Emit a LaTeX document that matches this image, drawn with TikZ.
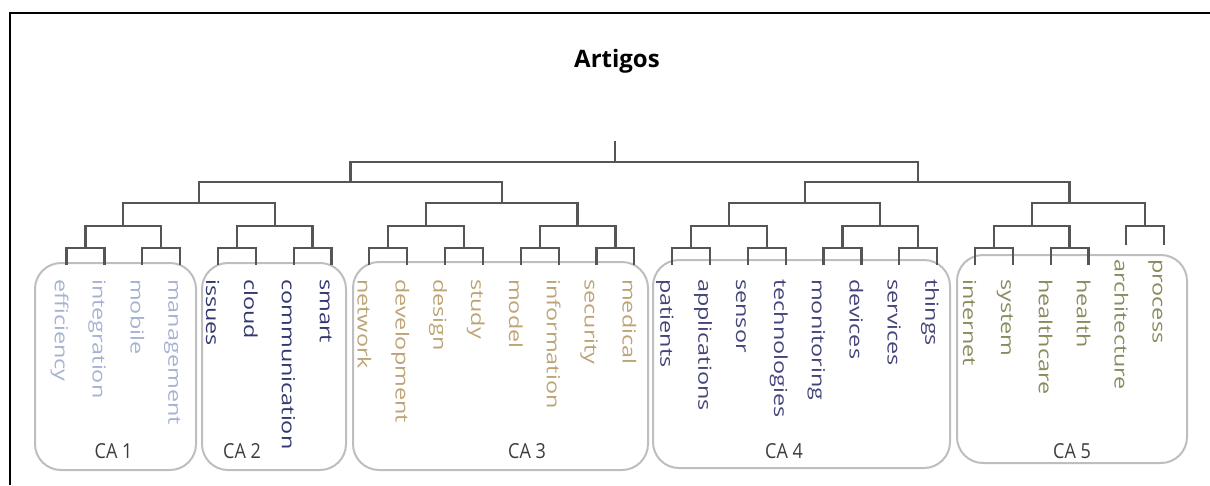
\documentclass[tikz,border=0pt]{standalone}
\usepackage{fontspec}
\setmainfont{Open Sans}
\usepackage{graphicx}

\definecolor{treeline}{RGB}{85,85,85}
\definecolor{boxgray}{RGB}{190,190,190}
\definecolor{calabel}{RGB}{60,60,60}
\definecolor{caone}{RGB}{165,178,210}
\definecolor{catwo}{RGB}{50,55,112}
\definecolor{cathree}{RGB}{188,164,118}
\definecolor{cafour}{RGB}{68,68,122}
\definecolor{cafive}{RGB}{138,138,92}

\tikzset{
    branch/.style={draw=treeline, line width=2.2pt},
    cabox/.style={draw=boxgray, line width=2pt, rounded corners=26pt},
    leaflab/.style={shift={(2,14)}, rotate=-90, anchor=north west, inner sep=0pt,
        text height=13.5pt, text depth=4.5pt, font=\fontsize{18}{18}\selectfont},
    calab/.style={anchor=base, inner sep=0pt, text=calabel, font=\fontsize{18}{18}\selectfont}
}
\newcommand{\stretchlab}[1]{\scalebox{1.3}[1]{#1}}

\begin{document}
\begin{tikzpicture}[x=1pt, y=-1pt]
    \useasboundingbox (0,0) rectangle (1210,485);
    \draw[line width=2pt] (10,485) -- (10,13) -- (1210,13);

    \node[anchor=base, font=\bfseries\fontsize{24}{24}\selectfont] (title) at (617,67) {Artigos};

    % cluster boxes
    \draw[cabox] (35,263) rectangle (196,470);
    \draw[cabox] (202,263) rectangle (346,470);
    \draw[cabox] (353,262) rectangle (648,470);
    \draw[cabox] (653,260) rectangle (950,468);
    \draw[cabox] (957,255) rectangle (1187,463);
    \node[calab] (ca1) at (113.5,458) {\scalebox{1}[1.15]{CA 1}};
    \node[calab] (ca2) at (242,458) {\scalebox{1}[1.15]{CA 2}};
    \node[calab] (ca3) at (527,458) {\scalebox{1}[1.15]{CA 3}};
    \node[calab] (ca4) at (784,458) {\scalebox{1}[1.15]{CA 4}};
    \node[calab] (ca5) at (1072,458) {\scalebox{1}[1.15]{CA 5}};

    % leaves
    \coordinate (efficiency) at (66.5,265);
    \coordinate (integration) at (104.4,265);
    \coordinate (mobile) at (142.2,265);
    \coordinate (management) at (180.1,265);
    \coordinate (issues) at (217.9,265);
    \coordinate (cloud) at (255.8,265);
    \coordinate (communication) at (293.6,265);
    \coordinate (smart) at (331.5,265);
    \coordinate (network) at (369.3,265);
    \coordinate (development) at (407.2,265);
    \coordinate (design) at (445.0,265);
    \coordinate (study) at (482.9,265);
    \coordinate (model) at (520.7,265);
    \coordinate (information) at (558.6,265);
    \coordinate (security) at (596.4,265);
    \coordinate (medical) at (634.3,265);
    \coordinate (patients) at (672.1,265);
    \coordinate (applications) at (710.0,265);
    \coordinate (sensor) at (747.8,265);
    \coordinate (technologies) at (785.7,265);
    \coordinate (monitoring) at (823.5,265);
    \coordinate (devices) at (861.4,265);
    \coordinate (services) at (899.2,265);
    \coordinate (things) at (937.1,265);
    \coordinate (internet) at (974.9,265);
    \coordinate (system) at (1012.8,265);
    \coordinate (healthcare) at (1050.6,265);
    \coordinate (health) at (1088.5,265);
    \coordinate (architecture) at (1126.3,245);
    \coordinate (process) at (1164.2,245);

    \node[leaflab, text=caone] (efficiency-t) at (efficiency) {\stretchlab{efficiency}};
    \node[leaflab, text=caone] (integration-t) at (integration) {\stretchlab{integration}};
    \node[leaflab, text=caone] (mobile-t) at (mobile) {\stretchlab{mobile}};
    \node[leaflab, text=caone] (management-t) at (management) {\stretchlab{management}};
    \node[leaflab, text=catwo] (issues-t) at (issues) {\stretchlab{issues}};
    \node[leaflab, text=catwo] (cloud-t) at (cloud) {\stretchlab{cloud}};
    \node[leaflab, text=catwo] (communication-t) at (communication) {\stretchlab{communication}};
    \node[leaflab, text=catwo] (smart-t) at (smart) {\stretchlab{smart}};
    \node[leaflab, text=cathree] (network-t) at (network) {\stretchlab{network}};
    \node[leaflab, text=cathree] (development-t) at (development) {\stretchlab{development}};
    \node[leaflab, text=cathree] (design-t) at (design) {\stretchlab{design}};
    \node[leaflab, text=cathree] (study-t) at (study) {\stretchlab{study}};
    \node[leaflab, text=cathree] (model-t) at (model) {\stretchlab{model}};
    \node[leaflab, text=cathree] (information-t) at (information) {\stretchlab{information}};
    \node[leaflab, text=cathree] (security-t) at (security) {\stretchlab{security}};
    \node[leaflab, text=cathree] (medical-t) at (medical) {\stretchlab{medical}};
    \node[leaflab, text=cafour] (patients-t) at (patients) {\stretchlab{patients}};
    \node[leaflab, text=cafour] (applications-t) at (applications) {\stretchlab{applications}};
    \node[leaflab, text=cafour] (sensor-t) at (sensor) {\stretchlab{sensor}};
    \node[leaflab, text=cafour] (technologies-t) at (technologies) {\stretchlab{technologies}};
    \node[leaflab, text=cafour] (monitoring-t) at (monitoring) {\stretchlab{monitoring}};
    \node[leaflab, text=cafour] (devices-t) at (devices) {\stretchlab{devices}};
    \node[leaflab, text=cafour] (services-t) at (services) {\stretchlab{services}};
    \node[leaflab, text=cafour] (things-t) at (things) {\stretchlab{things}};
    \node[leaflab, text=cafive] (internet-t) at (internet) {\stretchlab{internet}};
    \node[leaflab, text=cafive] (system-t) at (system) {\stretchlab{system}};
    \node[leaflab, text=cafive] (healthcare-t) at (healthcare) {\stretchlab{healthcare}};
    \node[leaflab, text=cafive] (health-t) at (health) {\stretchlab{health}};
    \node[leaflab, text=cafive] (architecture-t) at (architecture) {\stretchlab{architecture}};
    \node[leaflab, text=cafive] (process-t) at (process) {\stretchlab{process}};

    % merge points
    \coordinate (p0) at (85.4,248);
    \coordinate (p1) at (161.1,248);
    \coordinate (p2) at (236.8,248);
    \coordinate (p3) at (312.5,248);
    \coordinate (p4) at (388.2,248);
    \coordinate (p5) at (464.0,248);
    \coordinate (p6) at (539.7,248);
    \coordinate (p7) at (615.4,248);
    \coordinate (p8) at (691.0,248);
    \coordinate (p9) at (766.7,248);
    \coordinate (p10) at (842.4,248);
    \coordinate (p11) at (918.1,248);
    \coordinate (p12) at (993.8,248);
    \coordinate (p13) at (1069.5,248);
    \coordinate (p14) at (1145.2,226);
    \coordinate (q0) at (123.3,226);
    \coordinate (q1) at (274.7,226);
    \coordinate (q2) at (426.1,226);
    \coordinate (q3) at (577.5,226);
    \coordinate (q4) at (728.9,226);
    \coordinate (q5) at (880.3,226);
    \coordinate (q6) at (1031.7,226);
    \coordinate (o1) at (199.0,203);
    \coordinate (o2) at (501.8,203);
    \coordinate (o3) at (804.6,203);
    \coordinate (o4) at (1069.5,203);
    \coordinate (hl) at (350.4,182);
    \coordinate (hr) at (918.1,182);
    \coordinate (root) at (615.3,162);
    \coordinate (top) at (615.3,141);

    % dendrogram
    \draw[branch] (efficiency) |- (p0) -| (integration);
    \draw[branch] (mobile) |- (p1) -| (management);
    \draw[branch] (issues) |- (p2) -| (cloud);
    \draw[branch] (communication) |- (p3) -| (smart);
    \draw[branch] (network) |- (p4) -| (development);
    \draw[branch] (design) |- (p5) -| (study);
    \draw[branch] (model) |- (p6) -| (information);
    \draw[branch] (security) |- (p7) -| (medical);
    \draw[branch] (patients) |- (p8) -| (applications);
    \draw[branch] (sensor) |- (p9) -| (technologies);
    \draw[branch] (monitoring) |- (p10) -| (devices);
    \draw[branch] (services) |- (p11) -| (things);
    \draw[branch] (internet) |- (p12) -| (system);
    \draw[branch] (healthcare) |- (p13) -| (health);
    \draw[branch] (architecture) |- (p14) -| (process);
    \draw[branch] (p0) |- (q0) -| (p1);
    \draw[branch] (p2) |- (q1) -| (p3);
    \draw[branch] (p4) |- (q2) -| (p5);
    \draw[branch] (p6) |- (q3) -| (p7);
    \draw[branch] (p8) |- (q4) -| (p9);
    \draw[branch] (p10) |- (q5) -| (p11);
    \draw[branch] (p12) |- (q6) -| (p13);
    \draw[branch] (q0) |- (o1) -| (q1);
    \draw[branch] (q2) |- (o2) -| (q3);
    \draw[branch] (q4) |- (o3) -| (q5);
    \draw[branch] (q6) |- (o4) -| (p14);
    \draw[branch] (o1) |- (hl) -| (o2);
    \draw[branch] (o3) |- (hr) -| (o4);
    \draw[branch] (hl) |- (root) -| (hr);
    \draw[branch] (root) -- (top);
\end{tikzpicture}
\end{document}
